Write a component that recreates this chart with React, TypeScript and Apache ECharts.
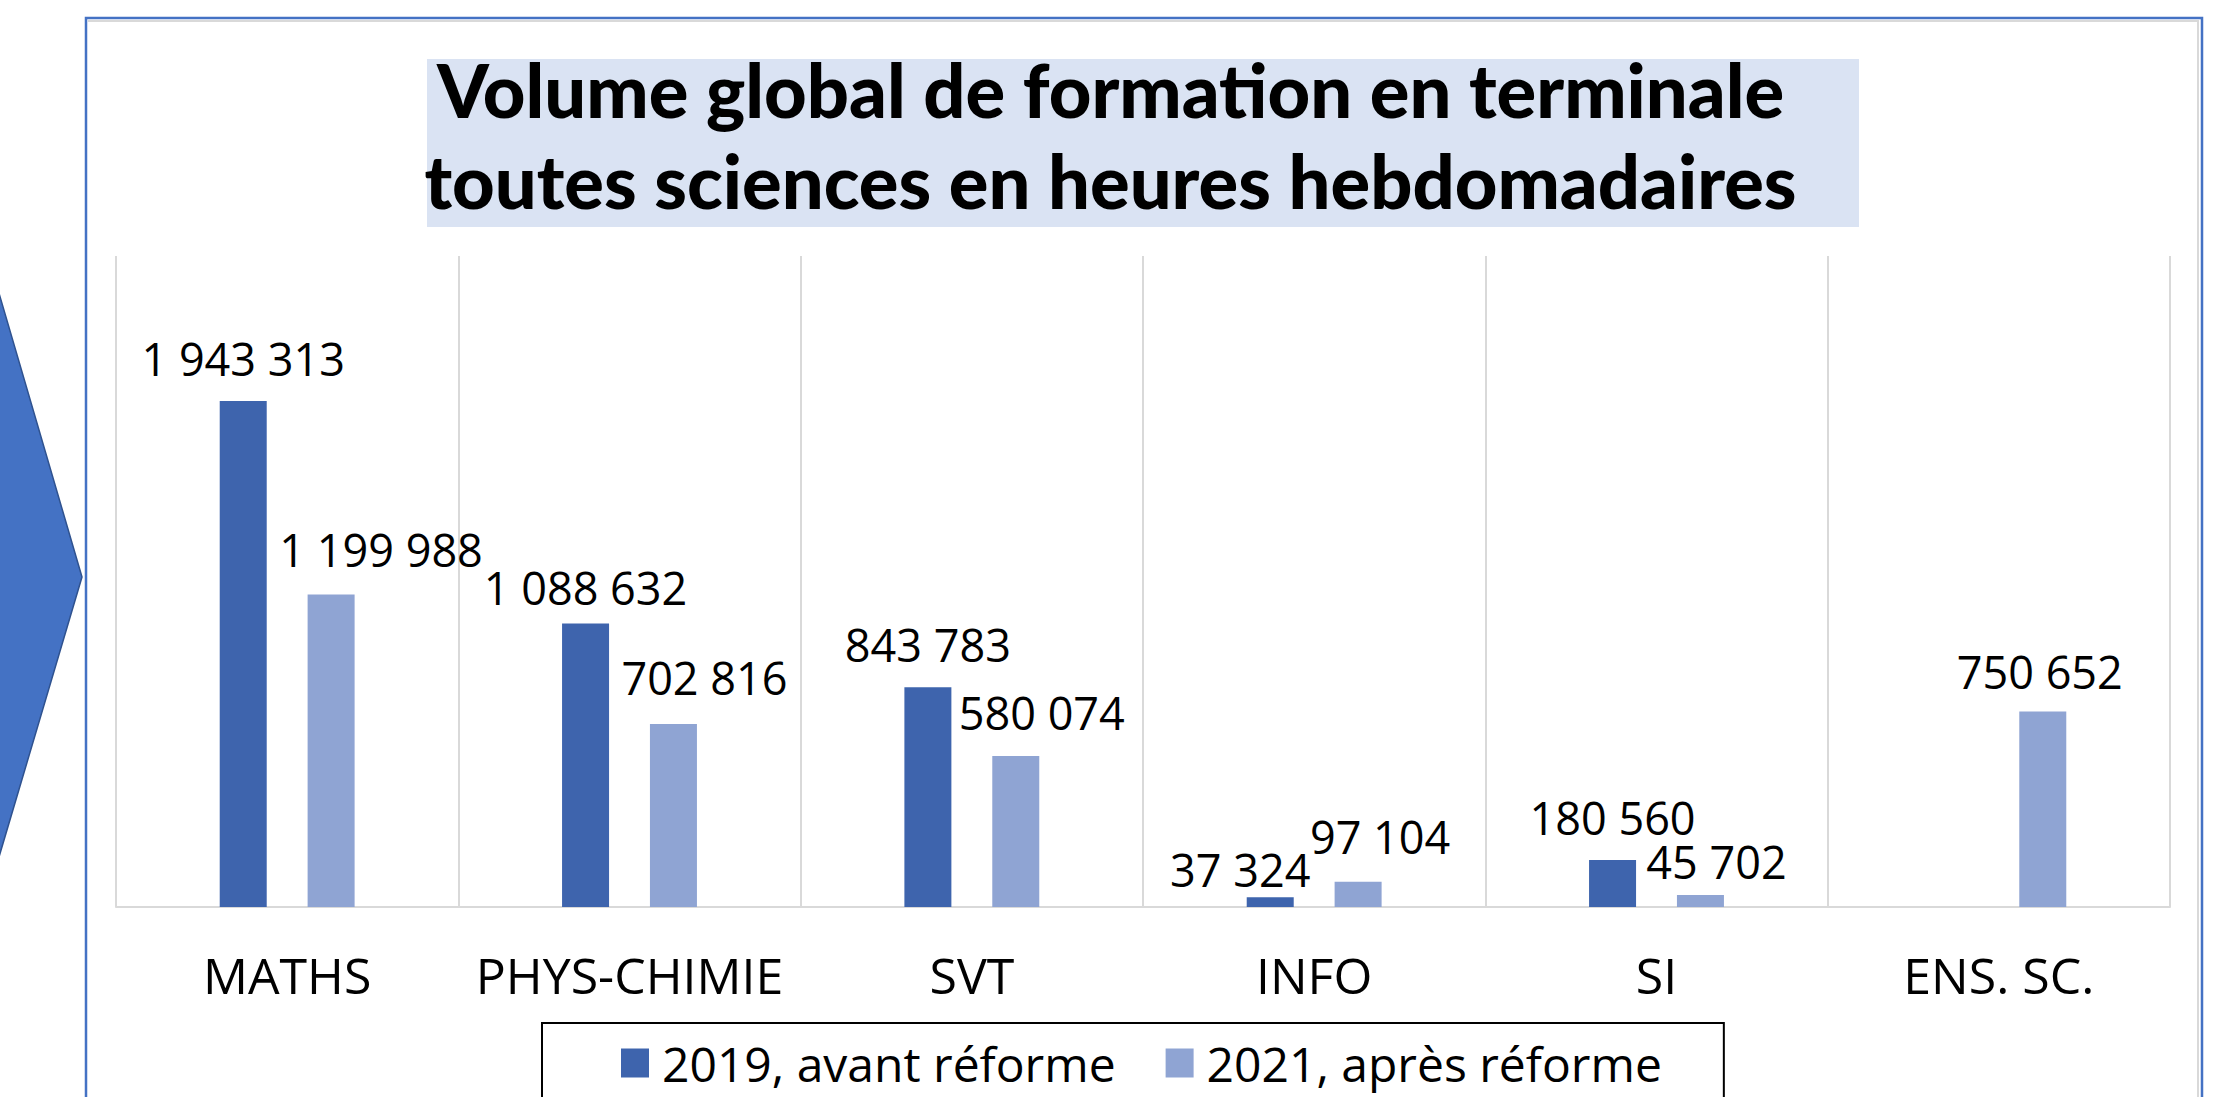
import React, { useEffect, useRef } from "react";
import * as echarts from "echarts";

const categories = ["MATHS", "PHYS-CHIMIE", "SVT", "INFO", "SI", "ENS. SC."];
const seriesNames = ["2019, avant réforme", "2021, après réforme"];
const values2019 = [1943313, 1088632, 843783, 37324, 180560, null];
const values2021 = [1199988, 702816, 580074, 97104, 45702, 750652];
const labelOffsets2019 = [[0, 0], [0, 6], [0, 0], [-30, 15], [0, 0], [0, 0]];
const labelOffsets2021 = [[50, -3], [31, -4], [26, -1], [22, -3], [16, 9], [-3, 2]];
const titleLines = [
  "Volume global de formation en terminale",
  "toutes sciences en heures hebdomadaires",
];

const fmt = (n: number) => String(n).replace(/\B(?=(\d{3})+(?!\d))/g, " ");

const COLOR_2019 = "#3E64AD";
const COLOR_2021 = "#8FA4D3";

function buildData(values: (number | null)[], offsets: number[][]) {
  return values.map((v, i) =>
    v == null ? "-" : { value: v, label: { offset: offsets[i] } }
  );
}

export default function App() {
  const ref = useRef<HTMLDivElement>(null);
  useEffect(() => {
    if (!ref.current) return;
    const chart = echarts.init(ref.current, null, { renderer: "svg" });
    const labelCommon = {
      show: true,
      position: "top",
      distance: 20,
      fontFamily: "Open Sans",
      fontSize: 45,
      color: "#000",
      formatter: (p: any) => fmt(p.value),
    };
    chart.setOption({
      animation: false,
      backgroundColor: "#fff",
      title: {
        text: titleLines.join("\n"),
        left: "center",
        top: 44,
        padding: 0,
        textStyle: {
          fontFamily: "Lato",
          fontWeight: 900,
          fontSize: 74,
          lineHeight: 91,
          color: "#000",
        },
      },
      graphic: [
        {
          type: "rect",
          z: -10,
          shape: { x: 427, y: 59, width: 1432, height: 168 },
          style: { fill: "#DAE3F3" },
          silent: true,
        },
        {
          type: "polygon",
          z: -10,
          shape: { points: [[-4, 283], [82, 577], [-4, 867]] },
          style: { fill: "#4472C4", stroke: "#2F528F", lineWidth: 1.5 },
          silent: true,
        },
        {
          type: "line",
          z: -10,
          shape: { x1: 88, y1: 21, x2: 2199, y2: 21 },
          style: { stroke: "#D9D9D9", lineWidth: 2 },
          silent: true,
        },
        {
          type: "line",
          z: -10,
          shape: { x1: 2198, y1: 21, x2: 2198, y2: 1100 },
          style: { stroke: "#D9D9D9", lineWidth: 2 },
          silent: true,
        },
        {
          type: "rect",
          z: -9,
          shape: { x: 86, y: 18, width: 2116, height: 1200 },
          style: { fill: "none", stroke: "#4472C4", lineWidth: 2.5 },
          silent: true,
        },
      ],
      legend: {
        data: seriesNames,
        left: 542,
        top: 1023,
        padding: [16, 62, 80, 79],
        borderColor: "#000",
        borderWidth: 2,
        itemWidth: 28,
        itemHeight: 29,
        itemGap: 50,
        icon: "rect",
        textStyle: {
          fontFamily: "Open Sans",
          fontSize: 48,
          lineHeight: 48,
          color: "#000",
          padding: [0, 0, 0, 8],
        },
      },
      grid: { left: 116, right: 51, top: 256, bottom: 190, containLabel: false },
      xAxis: {
        type: "category",
        data: categories,
        axisLine: { show: true, lineStyle: { color: "#D9D9D9", width: 2 } },
        axisTick: { show: false },
        splitLine: { show: true, interval: 0, lineStyle: { color: "#D9D9D9", width: 2 } },
        axisLabel: {
          interval: 0,
          margin: 43,
          fontFamily: "Open Sans",
          fontSize: 50,
          color: "#000",
        },
      },
      yAxis: {
        type: "value",
        min: 0,
        max: 2500000,
        show: false,
        splitLine: { show: false },
      },
      series: [
        {
          name: seriesNames[0],
          type: "bar",
          data: buildData(values2019, labelOffsets2019),
          barWidth: 47,
          barGap: "87%",
          itemStyle: { color: COLOR_2019 },
          label: labelCommon,
        },
        {
          name: seriesNames[1],
          type: "bar",
          data: buildData(values2021, labelOffsets2021),
          barWidth: 47,
          barGap: "87%",
          itemStyle: { color: COLOR_2021 },
          label: labelCommon,
        },
      ],
    });
    return () => chart.dispose();
  }, []);
  return (
    <div
      ref={ref}
      style={{ position: "fixed", left: 0, top: 0, width: 2221, height: 1097 }}
    />
  );
}
